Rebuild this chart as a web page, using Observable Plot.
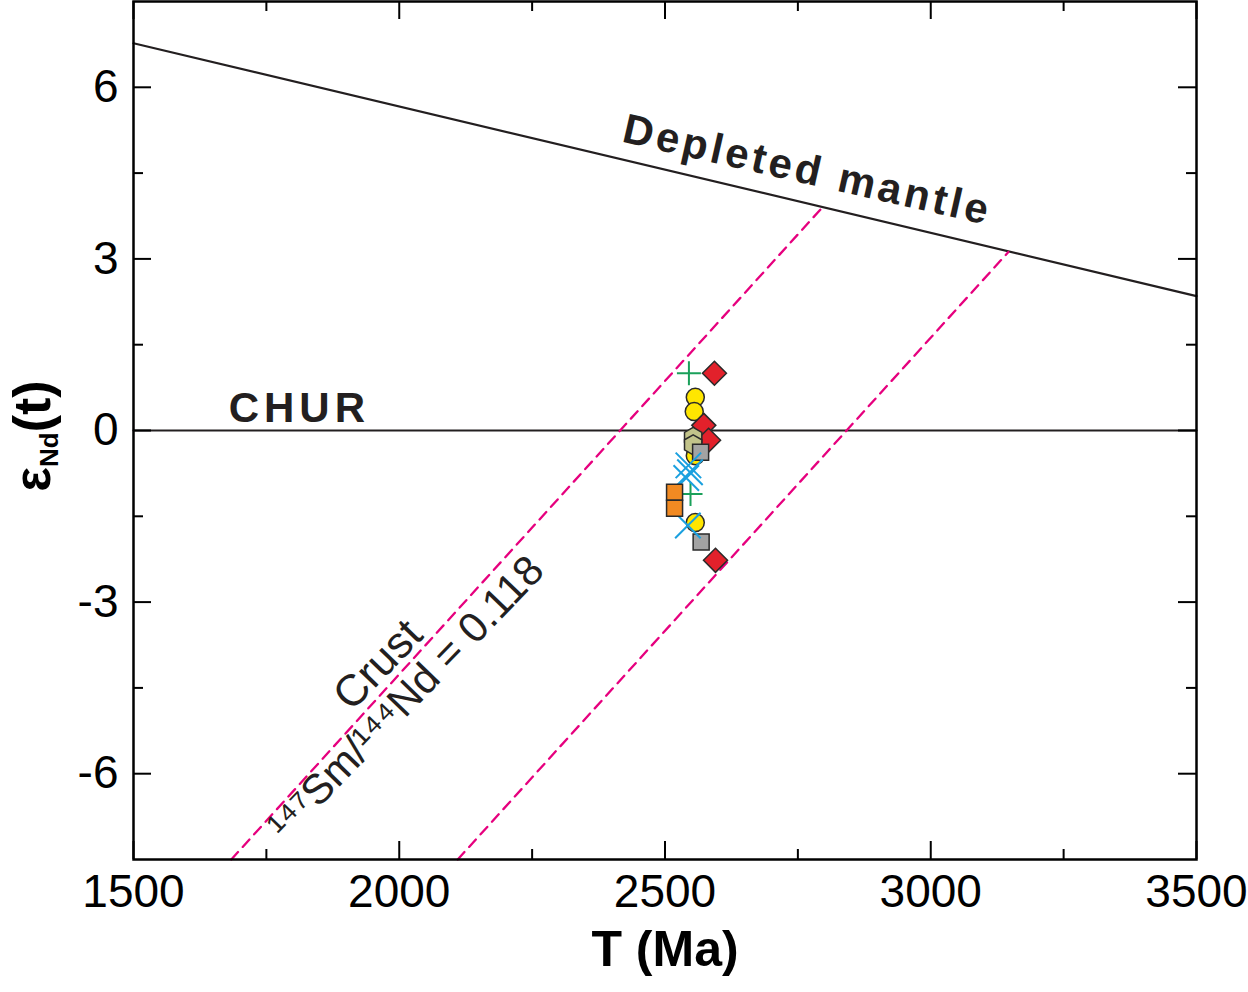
<!DOCTYPE html>
<html>
<head>
<meta charset="utf-8">
<script src="https://cdn.jsdelivr.net/npm/d3@7"></script>
<script src="https://cdn.jsdelivr.net/npm/@observablehq/plot@0.6"></script>
<style>
  html, body { margin: 0; padding: 0; background: #fff; }
  #chart { width: 1248px; height: 992px; }
</style>
</head>
<body>
<div id="chart"></div>
<script>
// ---- Data ----
const xTicks = [1500, 2000, 2500, 3000, 3500];
const xMinorTicks = [1750, 2250, 2750, 3250];
const yTicks = [-6, -3, 0, 3, 6];
const yMinorTicks = [-4.5, -1.5, 1.5, 4.5];
const yTickLabels = ["-6", "-3", "0", "3", "6"];

// reference curves (T in Ma, eNd)
const mantleT = [1500, 3500];
const mantleE = [6.77, 2.35];
const churT = [1500, 3500];
const churE = [0, 0];
const crust1T = [1684, 2796];
const crust1E = [-7.5, 3.9];
const crust2T = [2110, 3146];
const crust2E = [-7.5, 3.12];

// samples
const circleT = [2557, 2555, 2557, 2557];
const circleE = [0.58, 0.33, -0.44, -1.61];
const diamondT = [2593, 2573, 2582, 2595];
const diamondE = [1.0, 0.09, -0.17, -2.27];
const hexT = [2553, 2553];
const hexE = [-0.12, -0.25];
const graySqT = [2567, 2568];
const graySqE = [-0.38, -1.95];
const plusT = [2545, 2548];
const plusE = [1.0, -1.11];
const timesT = [2544, 2547, 2540, 2543];
const timesE = [-0.61, -0.73, -0.83, -1.66];
const orangeT = [2518, 2518];
const orangeE = [-1.08, -1.36];

const zip = (a, b) => a.map((v, i) => ({x: v, y: b[i]}));

// ---- custom symbols (radius derived from size = pi r^2) ----
const R = s => Math.sqrt(s / Math.PI);
const symDiamond = {draw(c, s) { const r = R(s); c.moveTo(0, -r); c.lineTo(r, 0); c.lineTo(0, r); c.lineTo(-r, 0); c.closePath(); }};
const symSquare = {draw(c, s) { const r = R(s); c.rect(-r, -r, 2 * r, 2 * r); }};
const symHex = {draw(c, s) { const r = R(s); for (let i = 0; i < 6; i++) { const a = Math.PI / 3 * i - Math.PI / 2; const px = r * Math.cos(a), py = r * Math.sin(a); if (i === 0) c.moveTo(px, py); else c.lineTo(px, py); } c.closePath(); }};
const symPlus = {draw(c, s) { const r = R(s); c.moveTo(-r, 0); c.lineTo(r, 0); c.moveTo(0, -r); c.lineTo(0, r); }};
const symTimes = {draw(c, s) { const r = R(s) * 0.7071; c.moveTo(-r, -r); c.lineTo(r, r); c.moveTo(-r, r); c.lineTo(r, -r); }};

const innerH = 992 - 1 - 133;
const innerW = 1248 - 133 - 52;
const ink = "#231f20";
const edge = "#2a2a2a";
const magenta = "#e6007e";

const chart = Plot.plot({
  width: 1248,
  height: 992,
  marginLeft: 133,
  marginRight: 52,
  marginTop: 1,
  marginBottom: 133,
  x: {domain: [1500, 3500]},
  y: {domain: [-7.5, 7.5]},
  style: {fontFamily: "'Liberation Sans', Arial, sans-serif", background: "#fff", color: "#000"},
  marks: [
    // reference lines
    Plot.line(zip(mantleT, mantleE), {x: "x", y: "y", stroke: ink, strokeWidth: 2.2}),
    Plot.line(zip(churT, churE), {x: "x", y: "y", stroke: ink, strokeWidth: 2.2}),
    Plot.line(zip(crust1T, crust1E), {x: "x", y: "y", stroke: magenta, strokeWidth: 2.3, strokeDasharray: "10,7"}),
    Plot.line(zip(crust2T, crust2E), {x: "x", y: "y", stroke: magenta, strokeWidth: 2.3, strokeDasharray: "10,7"}),

    // annotations
    Plot.text(["Depleted mantle"], {x: 2768, y: 4.55, rotate: 12.8, fontSize: 42, fontWeight: "bold", fill: ink}),
    Plot.text(["CHUR"], {x: 1812, y: 0.39, fontSize: 42, fontWeight: "bold", fill: ink}),
    Plot.text(["Crust"], {x: 1960, y: -4.1, rotate: -46, fontSize: 44, fill: ink}),
    Plot.text(["¹⁴⁷Sm/¹⁴⁴Nd = 0.118"], {x: 2013, y: -4.68, rotate: -46, fontSize: 42, fill: ink}),

    // samples
    Plot.dot(zip(circleT, circleE), {x: "x", y: "y", symbol: "circle", r: 9, fill: "#ffe600", stroke: edge, strokeWidth: 1.5}),
    Plot.dot(zip(diamondT, diamondE), {x: "x", y: "y", symbol: symDiamond, r: 12, fill: "#e2212b", stroke: edge, strokeWidth: 1.5}),
    Plot.dot(zip(hexT, hexE), {x: "x", y: "y", symbol: symHex, r: 10, fill: "#c2c38a", stroke: edge, strokeWidth: 1.5}),
    Plot.dot(zip(graySqT, graySqE), {x: "x", y: "y", symbol: symSquare, r: 8, fill: "#a3a3a3", stroke: edge, strokeWidth: 1.5}),
    Plot.dot(zip(plusT, plusE), {x: "x", y: "y", symbol: symPlus, r: 12, fill: "none", stroke: "#1aa05a", strokeWidth: 2}),
    Plot.dot(zip(timesT, timesE), {x: "x", y: "y", symbol: symTimes, r: 18, fill: "none", stroke: "#1aa0df", strokeWidth: 2}),
    Plot.dot(zip(orangeT, orangeE), {x: "x", y: "y", symbol: symSquare, r: 8, fill: "#f18a22", stroke: edge, strokeWidth: 1.5}),

    // inward ticks (bottom, top, left, right)
    Plot.tickX(xTicks, {x: d => d, insetTop: innerH - 18, stroke: "#000", strokeWidth: 2}),
    Plot.tickX(xMinorTicks, {x: d => d, insetTop: innerH - 10, stroke: "#000", strokeWidth: 2}),
    Plot.tickX(xTicks, {x: d => d, insetBottom: innerH - 18, stroke: "#000", strokeWidth: 2}),
    Plot.tickX(xMinorTicks, {x: d => d, insetBottom: innerH - 10, stroke: "#000", strokeWidth: 2}),
    Plot.tickY(yTicks, {y: d => d, insetRight: innerW - 18, stroke: "#000", strokeWidth: 2}),
    Plot.tickY(yMinorTicks, {y: d => d, insetRight: innerW - 10, stroke: "#000", strokeWidth: 2}),
    Plot.tickY(yTicks, {y: d => d, insetLeft: innerW - 18, stroke: "#000", strokeWidth: 2}),
    Plot.tickY(yMinorTicks, {y: d => d, insetLeft: innerW - 10, stroke: "#000", strokeWidth: 2}),

    // axes
    Plot.axisX({ticks: xTicks, tickSize: 0, tickPadding: 15, fontSize: 46, label: null, tickFormat: d => String(d)}),
    Plot.axisY({ticks: yTicks, tickSize: 0, tickPadding: 15, fontSize: 46, label: null, tickFormat: d => yTickLabels[yTicks.indexOf(d)]}),
    Plot.text(["T (Ma)"], {frameAnchor: "bottom", dy: 106, fontSize: 50, fontWeight: "bold", fill: "#000"}),

    Plot.frame({stroke: "#000", strokeWidth: 2.5})
  ]
});

document.getElementById("chart").appendChild(chart);

const svg = d3.select(chart);
// letter spacing for the bold annotations
svg.selectAll("text").each(function() {
  const t = this.textContent;
  if (t === "Depleted mantle") this.setAttribute("letter-spacing", "3.5px");
  if (t === "CHUR") this.setAttribute("letter-spacing", "5px");
});

// y-axis label with subscript
const lab = svg.append("text")
  .attr("transform", "translate(50,436) rotate(-90)")
  .attr("text-anchor", "middle")
  .attr("font-family", "'Liberation Sans', Arial, sans-serif")
  .attr("font-weight", "bold")
  .attr("font-size", 52)
  .attr("fill", "#000");
lab.append("tspan").text("ε");
lab.append("tspan").attr("font-size", 26).attr("dy", 8).text("Nd");
lab.append("tspan").attr("dy", -8).text("(t)");
</script>
</body>
</html>
